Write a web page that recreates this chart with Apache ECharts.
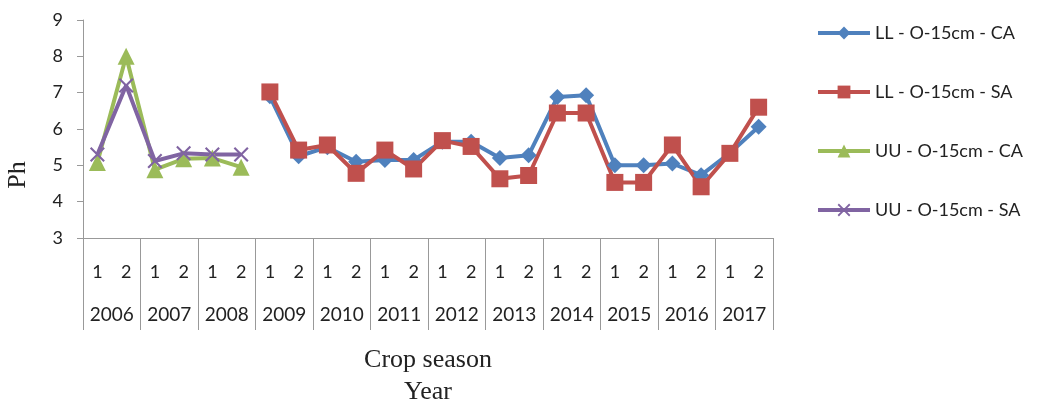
<!DOCTYPE html>
<html>
<head>
<meta charset="utf-8">
<script src="https://cdn.jsdelivr.net/npm/echarts@6/dist/echarts.min.js"></script>
<style>
  html, body { margin: 0; padding: 0; background: #fff; }
  #chart { width: 1037px; height: 400px; }
</style>
</head>
<body>
<div id="chart"></div>
<script>
// 数据
const years = ["2006", "2007", "2008", "2009", "2010", "2011", "2012", "2013", "2014", "2015", "2016", "2017"];
const seasons = [];
years.forEach(() => { seasons.push("1", "2"); });

const llCA = ["-", "-", "-", "-", "-", "-", 6.9, 5.25, 5.5, 5.1, 5.15, 5.15, 5.65, 5.65, 5.2, 5.28, 6.88, 6.93, 5.0, 5.0, 5.05, 4.73, 5.34, 6.06];
const llSA = ["-", "-", "-", "-", "-", "-", 7.02, 5.42, 5.56, 4.78, 5.42, 4.9, 5.68, 5.52, 4.63, 4.72, 6.44, 6.44, 4.53, 4.53, 5.56, 4.41, 5.33, 6.6];
const uuCA = [5.08, 8.0, 4.88, 5.18, 5.2, 4.95, "-", "-", "-", "-", "-", "-", "-", "-", "-", "-", "-", "-", "-", "-", "-", "-", "-", "-"];
const uuSA = [5.3, 7.2, 5.12, 5.33, 5.3, 5.3, "-", "-", "-", "-", "-", "-", "-", "-", "-", "-", "-", "-", "-", "-", "-", "-", "-", "-"];

const names = ["LL - O-15cm - CA", "LL - O-15cm - SA", "UU - O-15cm - CA", "UU - O-15cm - SA"];
const colors = ["#4f81bd", "#c0504d", "#9bbb59", "#8064a2"];

const chart = echarts.init(document.getElementById("chart"));
const sansFont = "Lato";
const serifFont = "Liberation Serif";
const crossPath = "path://M0,1L1,0L5,4L9,0L10,1L6,5L10,9L9,10L5,6L1,10L0,9L4,5Z";

const mkSeries = (i, data, symbol, size) => ({
  name: names[i],
  type: "line",
  xAxisIndex: 0,
  data: data,
  symbol: symbol,
  symbolSize: size,
  showAllSymbol: true,
  connectNulls: false,
  lineStyle: { width: 4, color: colors[i] },
  itemStyle: { color: colors[i] },
  emphasis: { disabled: true },
});

const option = {
  animation: false,
  color: colors,
  grid: { left: 83, right: 264, top: 20, bottom: 162, outerBoundsMode: "none", containLabel: false },
  legend: {
    orient: "vertical",
    left: 811,
    top: 19,
    itemGap: 41,
    itemWidth: 52,
    itemHeight: 16,
    lineStyle: { width: 4 },
    textStyle: { fontFamily: sansFont, fontSize: 18, color: "#222" },
    data: names,
  },
  graphic: [
    {
      type: "text",
      x: 18,
      y: 175,
      rotation: Math.PI / 2,
      style: { text: "Ph", font: "26px 'Liberation Serif'", fill: "#222", align: "center", verticalAlign: "middle" },
    },
  ],
  xAxis: [
    {
      type: "category",
      data: seasons,
      boundaryGap: true,
      axisLine: { show: true, lineStyle: { color: "#999", width: 1 } },
      axisTick: { show: false },
      axisLabel: { margin: 25, fontFamily: sansFont, fontSize: 18, color: "#222", interval: 0 },
      name: "Crop season\nYear",
      nameLocation: "middle",
      nameGap: 106,
      nameTextStyle: { fontFamily: serifFont, fontSize: 26, color: "#222", lineHeight: 32 },
    },
    {
      type: "category",
      data: years,
      position: "bottom",
      boundaryGap: true,
      axisLine: { show: false },
      axisTick: { show: true, length: 92, lineStyle: { color: "#999", width: 1 } },
      axisLabel: { margin: 67, fontFamily: sansFont, fontSize: 19, color: "#222", interval: 0 },
    },
  ],
  yAxis: {
    type: "value",
    min: 3,
    max: 9,
    interval: 1,
    axisLine: { show: true, lineStyle: { color: "#999", width: 1 } },
    axisTick: { show: true, length: 6, lineStyle: { color: "#999" } },
    axisLabel: { margin: 20, fontFamily: sansFont, fontSize: 18, color: "#222" },
    splitLine: { show: false },
  },
  series: [
    mkSeries(0, llCA, "diamond", 16),
    mkSeries(1, llSA, "rect", 17),
    mkSeries(2, uuCA, "triangle", 17),
    mkSeries(3, uuSA, crossPath, 15),
  ],
};

chart.setOption(option);
</script>
</body>
</html>
